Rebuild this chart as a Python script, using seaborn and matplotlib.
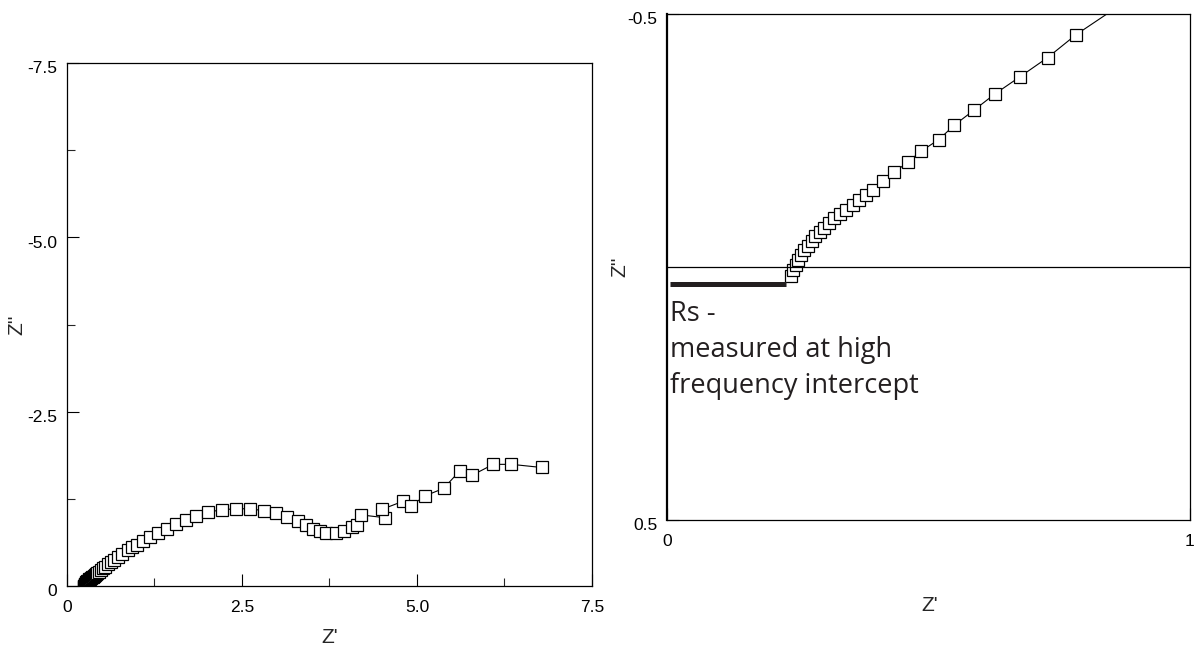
import matplotlib
matplotlib.use("Agg")
import matplotlib.pyplot as plt
import matplotlib.transforms as mtransforms
import seaborn as sns
from matplotlib.ticker import MultipleLocator

# Nyquist data (Z' real, Z'' imaginary; negative = capacitive, drawn upward)
z_real = [0.237, 0.2415, 0.246, 0.251, 0.256, 0.2625, 0.270, 0.277, 0.284, 0.2925,
          0.301, 0.310, 0.320, 0.331, 0.342, 0.355, 0.368, 0.3805, 0.394, 0.4135,
          0.4345, 0.460, 0.486, 0.520, 0.549, 0.587, 0.627, 0.675, 0.728, 0.782,
          0.870, 0.935, 1.005, 1.09, 1.186, 1.296, 1.424, 1.553, 1.70, 1.843,
          2.01, 2.22, 2.41, 2.61, 2.81, 2.99, 3.15, 3.30, 3.41, 3.52,
          3.61, 3.70, 3.84, 3.96, 4.07, 4.14, 4.20, 4.54, 4.50, 4.80,
          4.91, 5.12, 5.38, 5.61, 5.79, 6.09, 6.35, 6.78]
z_imag = [0.017, 0.006, -0.004, -0.014, -0.024, -0.034, -0.042, -0.052, -0.061, -0.070,
          -0.078, -0.0875, -0.096, -0.105, -0.113, -0.1225, -0.132, -0.142, -0.152, -0.169,
          -0.187, -0.207, -0.229, -0.252, -0.280, -0.310, -0.342, -0.376, -0.414, -0.459,
          -0.52, -0.555, -0.595, -0.645, -0.698, -0.756, -0.817, -0.885, -0.947, -1.008,
          -1.06, -1.094, -1.108, -1.108, -1.08, -1.043, -0.99, -0.93, -0.87, -0.82,
          -0.79, -0.756, -0.756, -0.79, -0.85, -0.875, -1.02, -0.98, -1.10, -1.215,
          -1.15, -1.295, -1.40, -1.65, -1.59, -1.745, -1.745, -1.70]

# axis ticks
left_xticks = [0, 2.5, 5.0, 7.5]
left_xlabels = ['0', '2.5', '5.0', '7.5']
left_yticks = [0, -2.5, -5.0, -7.5]
left_ylabels = ['0', '-2.5', '-5.0', '-7.5']
right_xticks = [0, 1]
right_xlabels = ['0', '1']
right_yticks = [-0.5, 0.5]
right_ylabels = ['-0.5', '0.5']

# Rs marker on the zoomed plot
rs_x = [0.006, 0.228]
rs_y = [0.034, 0.034]
rs_text = "Rs -\nmeasured at high\nfrequency intercept"

sns.set_style("ticks")
plt.rcParams['font.family'] = ['Liberation Sans', 'DejaVu Sans']

fig = plt.figure(figsize=(11.94, 6.55), dpi=100)
ax1 = fig.add_axes([0.0561, 0.1053, 0.4397, 0.7985])
ax2 = fig.add_axes([0.5586, 0.2061, 0.4380, 0.7725])


def nyquist(ax):
    sns.lineplot(x=z_real, y=z_imag, ax=ax, sort=False, estimator=None,
                 color='black', linewidth=0.8, marker='s', markersize=8,
                 markerfacecolor='white', markeredgecolor='black',
                 markeredgewidth=0.9)


def style(ax):
    for s in ax.spines.values():
        s.set_color('black')
        s.set_linewidth(0.9)
    ax.tick_params(which='major', direction='in', length=8.5, width=0.8,
                   labelsize=12.5, colors='black')
    ax.tick_params(which='minor', direction='in', length=5.5, width=0.8)
    ax.tick_params(axis='x', which='major', pad=10)
    ax.tick_params(axis='y', which='major', pad=7)
    off = mtransforms.ScaledTranslation(0, -3 / 72, fig.dpi_scale_trans)
    for lab in ax.get_yticklabels():
        lab.set_transform(lab.get_transform() + off)


# left: full spectrum
nyquist(ax1)
ax1.set_xlim(0, 7.5)
ax1.set_ylim(0, -7.5)
ax1.set_xticks(left_xticks, left_xlabels)
ax1.set_yticks(left_yticks, left_ylabels)
ax1.xaxis.set_minor_locator(MultipleLocator(1.25))
ax1.yaxis.set_minor_locator(MultipleLocator(1.25))
style(ax1)
ax1.set_xlabel("Z'", fontsize=15)
ax1.set_ylabel("Z''", fontsize=15)
ax1.xaxis.set_label_coords(0.501, -0.0975)
ax1.xaxis.label.set_va('center')
ax1.yaxis.set_label_coords(-0.095, 0.5)
ax1.yaxis.label.set_va('center')

# right: zoom on high frequency intercept
nyquist(ax2)
ax2.axhline(0, color='black', linewidth=0.9)
ax2.plot(rs_x, rs_y, color='#231f20', linewidth=3.6, solid_capstyle='butt')
ax2.text(0.006, 0.066, rs_text, ha='left', va='top', fontsize=19.5,
         family=['Open Sans', 'DejaVu Sans'], fontweight='normal',
         color='#231f20', linespacing=1.36)
ax2.set_xlim(0, 1)
ax2.set_ylim(0.5, -0.5)
ax2.set_xticks(right_xticks, right_xlabels)
ax2.set_yticks(right_yticks, right_ylabels)
style(ax2)
ax2.spines['left'].set_linewidth(1.6)
ax2.set_xlabel("Z'", fontsize=15)
ax2.set_ylabel("Z''", fontsize=15)
ax2.xaxis.set_label_coords(0.503, -0.168)
ax2.xaxis.label.set_va('center')
ax2.yaxis.set_label_coords(-0.090, 0.5)
ax2.yaxis.label.set_va('center')

fig.savefig("out.png", dpi=100)
